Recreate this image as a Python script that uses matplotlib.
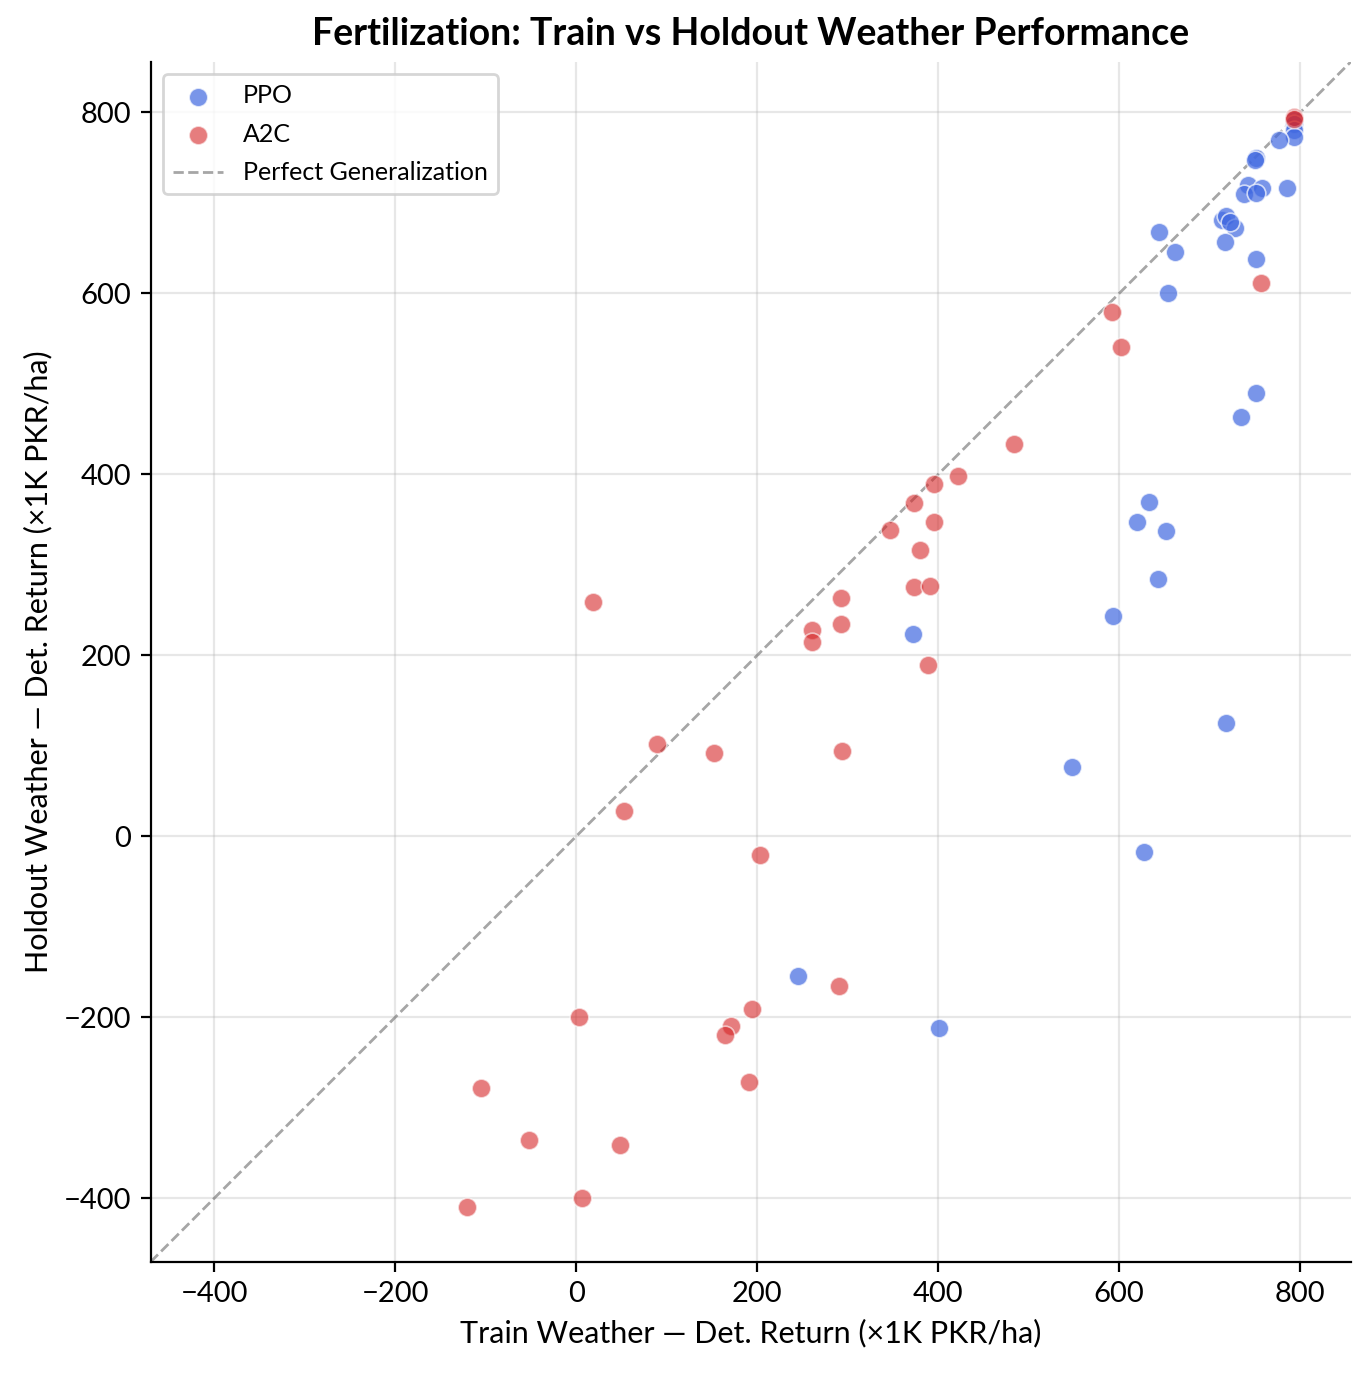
import matplotlib
matplotlib.use("Agg")
import matplotlib.pyplot as plt
import numpy as np

plt.rcParams['font.family'] = ['Lato', 'DejaVu Sans']

# PPO: train vs holdout deterministic return
ppo_train = [793, 793, 793, 793, 777, 751, 750, 742, 758, 738, 751, 786,
             714, 718, 728, 722, 717, 644, 662, 751, 654, 751, 735, 633,
             620, 652, 643, 593, 372, 718, 548, 627, 245, 401]
ppo_hold = [792, 787, 781, 773, 770, 750, 748, 720, 717, 710, 711, 716,
            681, 686, 672, 679, 657, 668, 646, 638, 600, 490, 463, 370,
            347, 337, 284, 244, 224, 125, 77, -17, -154, -212]

# A2C
a2c_train = [793, 793, 757, 592, 602, 484, 422, 395, 347, 373, 396, 380,
             373, 391, 389, 293, 293, 261, 261, 19, 89, 152, 294, 53,
             203, 291, 194, 171, 165, 3, 191, -105, -52, 49, 6, -121]
a2c_hold = [795, 793, 612, 580, 541, 434, 398, 389, 339, 369, 348, 316,
            276, 277, 190, 263, 235, 228, 215, 259, 102, 92, 94, 28,
            -21, -165, -191, -210, -219, -199, -271, -278, -335, -341, -399, -410]

lims = (-470, 856)

fig = plt.figure(figsize=(6.85, 6.865), dpi=200)
ax = fig.add_axes([0.110, 0.081, 0.876, 0.874])

ax.scatter(ppo_train, ppo_hold, s=45, c='#4169E1', alpha=0.7,
           edgecolors='white', linewidths=0.6, label='PPO', zorder=3)
ax.scatter(a2c_train, a2c_hold, s=45, c='#D62728', alpha=0.6,
           edgecolors='white', linewidths=0.6, label='A2C', zorder=3)
ax.plot(lims, lims, ls='--', color='gray', alpha=0.7, lw=1,
        label='Perfect Generalization', zorder=2)

ax.set_xlim(lims)
ax.set_ylim(lims)
ax.set_xticks([-400, -200, 0, 200, 400, 600, 800])
ax.set_yticks([-400, -200, 0, 200, 400, 600, 800])
ax.grid(True, alpha=0.3)
ax.spines['top'].set_visible(False)
ax.spines['right'].set_visible(False)
ax.tick_params(labelsize=10.5)

ax.set_xlabel('Train Weather — Det. Return (×1K PKR/ha)', fontsize=11)
ax.set_ylabel('Holdout Weather — Det. Return (×1K PKR/ha)', fontsize=11)
ax.set_title('Fertilization: Train vs Holdout Weather Performance',
             fontsize=13.5, fontweight='bold')
ax.legend(loc='upper left', fontsize=9, labelspacing=0.62)

fig.savefig('out.png', dpi=200)
